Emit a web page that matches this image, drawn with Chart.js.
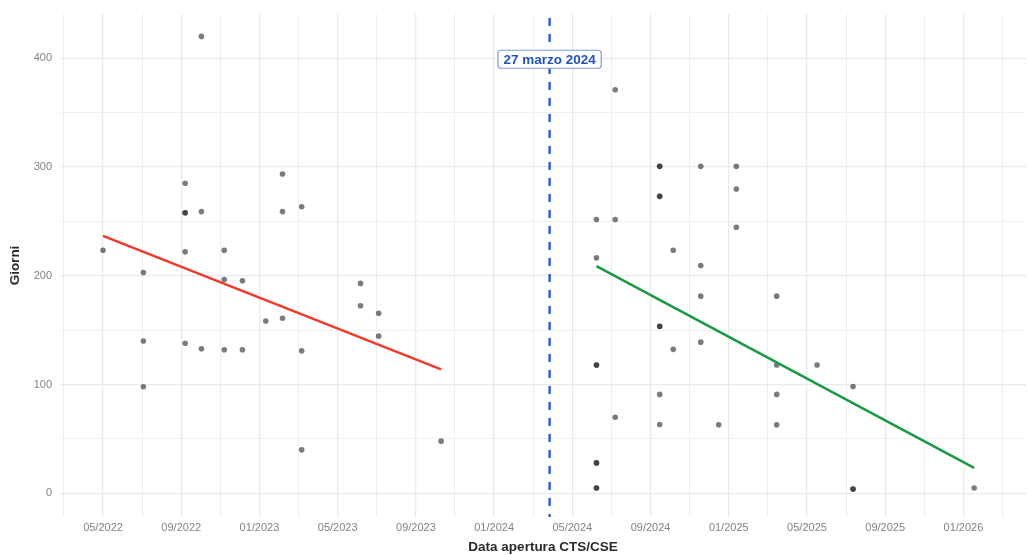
<!DOCTYPE html>
<html>
<head>
<meta charset="utf-8">
<script src="https://cdn.jsdelivr.net/npm/chart.js@4/dist/chart.umd.min.js"></script>
<style>
  body { margin: 0; background: #fff; }
  #wrap { width: 1030px; height: 555px; }
</style>
</head>
<body>
<div id="wrap"><canvas id="myChart" width="1030" height="555"></canvas></div>
<script>
// data
var preDates = ['2022-05-01','2022-07-03','2022-07-03','2022-07-03',
  '2022-09-07','2022-09-07','2022-09-07','2022-09-07','2022-09-07',
  '2022-10-02','2022-10-02','2022-10-02',
  '2022-11-07','2022-11-07','2022-11-07',
  '2022-12-05','2022-12-05','2023-01-11',
  '2023-02-06','2023-02-06','2023-02-06',
  '2023-03-06','2023-03-06','2023-03-06',
  '2023-06-06','2023-06-06','2023-07-04','2023-07-04','2023-10-10'];
var preDays = [223.5, 203, 140, 98,
  285, 258, 258, 222, 138,
  420, 259, 133,
  223.5, 196.5, 132,
  195.5, 132, 158.5,
  293.5, 259, 161,
  263.5, 131, 40,
  193, 172.5, 165.5, 144.5, 48];

var postDates = ['2024-06-08','2024-06-08','2024-06-08','2024-06-08','2024-06-08','2024-06-08','2024-06-08','2024-06-08',
  '2024-07-07','2024-07-07','2024-07-07',
  '2024-09-15','2024-09-15','2024-09-15','2024-09-15','2024-09-15','2024-09-15','2024-09-15','2024-09-15',
  '2024-10-06','2024-10-06',
  '2024-11-18','2024-11-18','2024-11-18','2024-11-18',
  '2024-12-16',
  '2025-01-13','2025-01-13','2025-01-13',
  '2025-03-15','2025-03-15','2025-03-15','2025-03-15',
  '2025-05-17',
  '2025-07-12','2025-07-12','2025-07-12',
  '2026-01-18'];
var postDays = [251.7, 216.5, 118, 118, 28, 28, 5, 5,
  371, 251.7, 70,
  300.6, 300.6, 273, 273, 153.5, 153.5, 91, 63.3,
  223.5, 132.4,
  300.6, 209.4, 181.3, 139,
  63,
  300.6, 279.8, 244.6,
  181.3, 118, 91, 63,
  118,
  98.2, 4, 4,
  5];

// trend lines (end points)
var preFitDates = ['2022-05-01', '2023-10-10'];
var preFitDays = [236.7, 114];
var postFitDates = ['2024-06-08', '2026-01-18'];
var postFitDays = [208.8, 23.5];

var breakDate = '2024-03-27';
var breakLabel = '27 marzo 2024';

var xTickLabels = ['05/2022','09/2022','01/2023','05/2023','09/2023','01/2024',
  '05/2024','09/2024','01/2025','05/2025','09/2025','01/2026'];
var yTickLabels = [0, 100, 200, 300, 400];

// months since 01/2022 (fractional)
function toMonth(s){
  var p = s.split('-');
  var y = Number(p[0]), m = Number(p[1]), d = Number(p[2]);
  var dim = new Date(y, m, 0).getDate();
  return (y - 2022) * 12 + (m - 1) + (d - 1) / dim;
}
function labelToMonth(l){
  var p = l.split('/');
  return (Number(p[1]) - 2022) * 12 + Number(p[0]) - 1;
}
function pts(dates, vals){
  var out = [];
  for (var i = 0; i < dates.length; i++){
    out.push({x: toMonth(dates[i]), y: vals[i]});
  }
  return out;
}

var labelMonths = {};
for (var i = 0; i < xTickLabels.length; i++){
  labelMonths[labelToMonth(xTickLabels[i])] = xTickLabels[i];
}

var breakPlugin = {
  id: 'breakLine',
  afterDatasetsDraw: function(chart){
    var ctx = chart.ctx;
    var area = chart.chartArea;
    var x = chart.scales.x.getPixelForValue(toMonth(breakDate));
    ctx.save();
    ctx.strokeStyle = '#2a5bd0';
    ctx.lineWidth = 2.4;
    ctx.setLineDash([8, 8]);
    ctx.beginPath();
    ctx.moveTo(x, area.top + 4);
    ctx.lineTo(x, area.bottom);
    ctx.stroke();
    ctx.setLineDash([]);

    // label box
    var y = chart.scales.y.getPixelForValue(399);
    ctx.font = 'bold 13.5px "Liberation Sans", Arial, sans-serif';
    var w = ctx.measureText(breakLabel).width + 11;
    var h = 18;
    var bx = x - w / 2, by = y - h / 2, r = 3;
    ctx.beginPath();
    ctx.moveTo(bx + r, by);
    ctx.lineTo(bx + w - r, by);
    ctx.quadraticCurveTo(bx + w, by, bx + w, by + r);
    ctx.lineTo(bx + w, by + h - r);
    ctx.quadraticCurveTo(bx + w, by + h, bx + w - r, by + h);
    ctx.lineTo(bx + r, by + h);
    ctx.quadraticCurveTo(bx, by + h, bx, by + h - r);
    ctx.lineTo(bx, by + r);
    ctx.quadraticCurveTo(bx, by, bx + r, by);
    ctx.closePath();
    ctx.fillStyle = '#ffffff';
    ctx.fill();
    ctx.strokeStyle = '#7c9de0';
    ctx.lineWidth = 1.2;
    ctx.stroke();
    ctx.fillStyle = '#2452bb';
    ctx.textAlign = 'center';
    ctx.textBaseline = 'middle';
    ctx.fillText(breakLabel, x, y + 1);
    ctx.restore();
  }
};

var pointColor = 'rgba(25,27,35,0.58)';
var gridMajor = '#e8eaee';
var gridMinor = '#edeff2';

var ctx = document.getElementById('myChart');
var myChart = new Chart(ctx, {
  type: 'scatter',
  data: {
    datasets: [
      {
        type: 'line',
        data: pts(preFitDates, preFitDays),
        borderColor: '#ee3b2b',
        borderWidth: 2.6,
        pointRadius: 0,
        fill: false,
        order: 0
      },
      {
        type: 'line',
        data: pts(postFitDates, postFitDays),
        borderColor: '#1c9a43',
        borderWidth: 2.6,
        pointRadius: 0,
        fill: false,
        order: 0
      },
      {
        data: pts(preDates, preDays),
        backgroundColor: pointColor,
        borderWidth: 0,
        pointRadius: 2.8,
        order: 1
      },
      {
        data: pts(postDates, postDays),
        backgroundColor: pointColor,
        borderWidth: 0,
        pointRadius: 2.8,
        order: 1
      }
    ]
  },
  options: {
    responsive: false,
    animation: false,
    devicePixelRatio: 1,
    layout: { padding: { top: 14, right: 0, bottom: 0, left: 0 } },
    plugins: {
      legend: { display: false },
      tooltip: { enabled: false }
    },
    scales: {
      x: {
        type: 'linear',
        min: 1.8,
        max: 51.2,
        afterFit: function(s){ s.height = 38; s.paddingLeft = 0; s.paddingRight = 0; },
        afterBuildTicks: function(s){
          var t = [];
          for (var m = 2; m <= 50; m += 2) t.push({value: m});
          s.ticks = t;
        },
        border: { display: false },
        grid: {
          drawTicks: false,
          color: function(c){ return (c.tick && labelMonths[Math.round(c.tick.value)]) ? gridMajor : gridMinor; },
          lineWidth: function(c){ return (c.tick && labelMonths[Math.round(c.tick.value)]) ? 1.3 : 1.1; }
        },
        ticks: {
          autoSkip: false,
          maxRotation: 0,
          padding: 4,
          color: '#808289',
          font: { family: '"Liberation Sans", Arial, sans-serif', size: 11 },
          callback: function(v){ return labelMonths[Math.round(v)] || ''; }
        },
        title: {
          display: true,
          text: 'Data apertura CTS/CSE',
          color: '#2a2a2a',
          padding: { top: 0, bottom: 0 },
          font: { family: '"Liberation Sans", Arial, sans-serif', size: 13.5, weight: 'bold' }
        }
      },
      y: {
        min: -21.7,
        max: 440.6,
        afterFit: function(s){ s.width = 60; s.paddingTop = 0; s.paddingBottom = 0; },
        afterBuildTicks: function(s){
          var t = [];
          for (var v = 0; v <= 400; v += 50) t.push({value: v});
          s.ticks = t;
        },
        border: { display: false },
        grid: {
          drawTicks: false,
          color: function(c){ return (c.tick && c.tick.value % 100 === 0) ? gridMajor : gridMinor; },
          lineWidth: function(c){ return (c.tick && c.tick.value % 100 === 0) ? 1.3 : 1.1; }
        },
        ticks: {
          padding: 8,
          color: '#808289',
          font: { family: '"Liberation Sans", Arial, sans-serif', size: 11 },
          callback: function(v){ return yTickLabels.indexOf(v) >= 0 ? String(v) : ''; }
        },
        title: {
          display: true,
          text: 'Giorni',
          color: '#2a2a2a',
          padding: { top: 7, bottom: 0 },
          font: { family: '"Liberation Sans", Arial, sans-serif', size: 13.5, weight: 'bold' }
        }
      }
    }
  },
  plugins: [breakPlugin]
});
</script>
</body>
</html>
